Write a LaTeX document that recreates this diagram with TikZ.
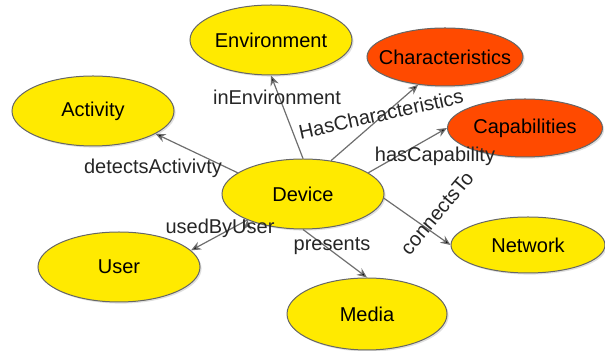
\documentclass[tikz,border=0pt]{standalone}
\usepackage{fontspec}
\setmainfont{Liberation Sans}
\usetikzlibrary{arrows.meta, shapes.geometric, shadows}
\definecolor{classyellow}{RGB}{255,234,0}
\definecolor{classorange}{RGB}{255,74,0}
\definecolor{edgegray}{RGB}{110,110,110}
\newcommand{\cname}[1]{\makebox[0pt]{#1}}

\begin{document}
\begin{tikzpicture}[x=0.5pt, y=-0.5pt, >={Stealth[length=5pt,width=4.2pt]},
  font=\fontsize{10}{12}\selectfont,
  main node/.style={ellipse, draw=black!60, line width=0.5pt, fill=classyellow,
    inner sep=0pt, minimum width=81pt, minimum height=35pt,
    drop shadow={shadow xshift=0.8pt, shadow yshift=-0.8pt, opacity=0.25}},
  hot node/.style={main node, fill=classorange, minimum width=78pt, minimum height=29pt},
  rel/.style={->, draw=edgegray, line width=0.6pt},
  rel label/.style={text=black!85, inner sep=1pt}]
  \useasboundingbox (0,0) rectangle (605,351);
  % classes
  \node[main node] (dev) at (303,194) {\cname{Device}};
  \node[main node] (env) at (271,40) {\cname{Environment}};
  \node[main node] (act) at (93,111) {\cname{Activity}};
  \node[main node] (usr) at (119,267) {\cname{User}};
  \node[main node, minimum width=80pt, minimum height=36pt] (med) at (367,314) {\cname{Media}};
  \node[main node, minimum width=77pt, minimum height=28pt] (net) at (528,245) {\cname{Network}};
  \node[hot node] (chr) at (445,57) {\cname{Characteristics}};
  \node[hot node, minimum width=77.5pt] (cap) at (525,128) {\cname{Capabilities}};
  % relations
  \path[rel]
    (dev.162) edge (act.-20)
    (dev.north) edge (env.south)
    (dev.50) edge (chr.226)
    (dev.18) edge (cap.west)
    (dev.-3) edge (net.west)
    (dev.south) edge (med.north)
    (dev.205) edge (usr.13);
  \node[rel label] (l1) at (277,97) {inEnvironment};
  \node[rel label, rotate=12.5] (l2) at (381,114) {HasCharacteristics};
  \node[rel label] (l3) at (435,156) {hasCapability};
  \node[rel label, rotate=50] (l4) at (437,213) {connectsTo};
  \node[rel label] (l5) at (153,168) {detectsActivivty};
  \node[rel label] (l6) at (220,228) {usedByUser};
  \node[rel label] (l7) at (332,246) {presents};
\end{tikzpicture}
\end{document}
